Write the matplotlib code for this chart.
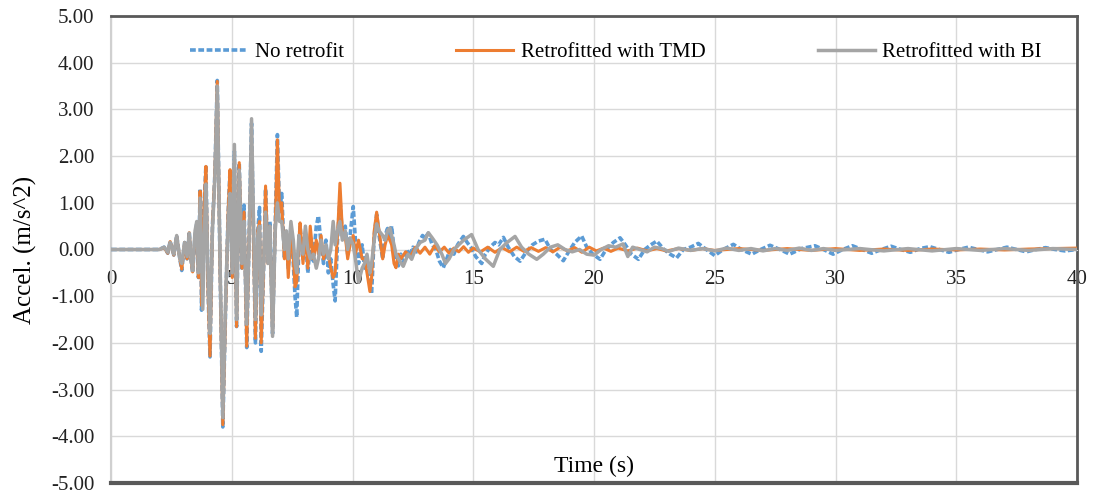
import matplotlib
matplotlib.use("Agg")
import matplotlib.pyplot as plt
import numpy as np

# ---- data (time in s, accel. in m/s^2) ----
no_retrofit_t = [0, 2.0, 2.2, 2.35, 2.45, 2.6, 2.72, 2.85, 2.93, 3.05, 3.15, 3.24, 3.32, 3.38, 3.48,
                 3.55, 3.62, 3.69, 3.75, 3.85, 3.93, 4.02, 4.10, 4.2, 4.30, 4.40, 4.52, 4.63, 4.75,
                 4.85, 4.93, 5.02, 5.11, 5.2, 5.31, 5.42, 5.51, 5.62, 5.72, 5.82, 5.98, 6.08, 6.15,
                 6.22, 6.32, 6.40, 6.5, 6.58, 6.69, 6.8, 6.89, 6.98, 7.07, 7.18, 7.26, 7.34, 7.45,
                 7.55, 7.62, 7.69, 7.78, 7.83, 7.95, 8.05, 8.15, 8.25, 8.38, 8.5, 8.59, 8.7, 8.8,
                 8.9, 9.0, 9.1, 9.2, 9.28, 9.38, 9.48, 9.58, 9.7, 9.8, 9.9, 10.03, 10.12, 10.25,
                 10.4, 10.5, 10.6, 10.72, 10.79, 10.9, 11.0, 11.1, 11.25, 11.35, 11.45, 11.55,
                 11.62, 11.72, 11.8, 11.9, 12.0, 12.1, 12.25, 12.35, 12.5, 12.6, 12.75, 12.9, 13.0,
                 13.14, 13.3, 13.45, 13.6, 13.76, 13.9, 14.05, 14.2, 14.35, 14.59, 14.75, 14.9,
                 15.1, 15.35, 15.5, 15.7, 15.9, 16.05, 16.25, 16.45, 16.7, 16.94, 17.2, 17.45,
                 17.7, 17.97, 18.2, 18.45, 18.73, 18.95, 19.2, 19.49, 19.7, 19.95, 20.25, 20.5,
                 20.8, 21.08, 21.3, 21.55, 21.84, 22.1, 22.35, 22.6, 22.9, 23.15, 23.42, 23.7,
                 24.0, 24.32, 24.65, 25.0, 25.35, 25.77, 26.1, 26.53, 26.9, 27.29, 27.7, 28.1,
                 28.6, 29.15, 29.5, 29.9, 30.3, 30.7, 31.1, 31.5, 31.9, 32.3, 32.7, 33.1, 33.5,
                 33.9, 34.3, 34.7, 35.1, 35.5, 35.9, 36.3, 36.7, 37.1, 37.5, 37.9, 38.3, 38.7,
                 39.1, 39.5, 40.0]
no_retrofit_a = [0, 0, 0.05, -0.08, 0.18, -0.12, 0.30, -0.2, -0.45, 0.15, -0.2, 0.38, -0.25, -0.5, 0.3,
                 0.55, -0.6, 1.3, -1.3, 0.9, 1.8, -0.9, -2.3, 0.5, 1.6, 3.62, -0.5, -3.8, -1.2,
                 0.8, 1.7, -0.6, 2.1, -1.65, 1.85, -0.4, 0.95, -2.1, 0.3, 2.7, -2.0, 0.4, 0.9,
                 -2.18, -0.4, 1.3, -0.3, 0.6, -1.8, 0.5, 2.46, 0.8, 1.2, -0.2, 0.3, -0.4, 0.5,
                 -0.3, -1.0, -1.45, 0.1, 0.5, -0.2, 0.3, -0.5, 0.1, -0.25, 0.5, 0.72, 0.1, -0.3,
                 0.2, -0.5, -0.2, -0.75, -1.1, 0.2, 1.1, 0.3, 0.5, -0.1, 0.3, 0.92, 0.2, -0.3,
                 0.1, -0.4, -0.2, -0.7, -0.95, 0.3, 0.75, 0.3, -0.2, 0.3, 0.45, 0.2,
                 0.5, 0.0, -0.2, -0.35, -0.1, -0.3, 0.0, -0.15, 0.05, -0.1, 0.15, 0.3, 0.25,
                 0.35, 0.1, 0.0, -0.25, -0.39, -0.2, 0.0, -0.1, 0.1, 0.28, 0.15, 0.05,
                 -0.15, -0.3, -0.1, 0.05, 0.15, 0.1, 0.26, 0.05, -0.15, -0.25, -0.05, 0.1,
                 0.18, 0.22, 0.0, -0.1, -0.24, -0.05, 0.15, 0.29, 0.05, -0.1, -0.21, 0.0,
                 0.15, 0.25, 0.1, -0.1, -0.21, 0.0, 0.1, 0.18, 0.0, -0.1, -0.18, 0.0,
                 0.05, 0.13, 0.0, -0.13, 0.0, 0.11, 0.0, -0.1, 0.0, 0.09, 0.0, -0.1,
                 0.02, 0.08, 0.0, -0.1, 0.0, 0.08, 0.0, -0.08, 0.0, 0.07, 0.0, -0.06, 0.02,
                 0.06, 0.0, -0.06, 0.0, 0.05, 0.0, -0.05, 0.0, 0.05, 0.0, -0.05, 0.0, 0.04,
                 0.0, -0.03, 0.0]

tmd_t = [0, 2.0, 2.2, 2.35, 2.45, 2.6, 2.72, 2.85, 2.93, 3.05, 3.15, 3.24, 3.32, 3.38, 3.48,
         3.55, 3.62, 3.69, 3.75, 3.85, 3.93, 4.02, 4.10, 4.2, 4.30, 4.40, 4.52, 4.63, 4.75,
         4.85, 4.93, 5.02, 5.11, 5.2, 5.31, 5.42, 5.51, 5.62, 5.72, 5.82, 5.98, 6.08, 6.15,
         6.22, 6.32, 6.40, 6.5, 6.58, 6.69, 6.8, 6.89, 6.98, 7.07, 7.18, 7.26, 7.34, 7.45,
         7.55, 7.62, 7.69, 7.78, 7.83, 7.95, 8.05, 8.15, 8.25, 8.38, 8.5, 8.59, 8.7, 8.8,
         8.9, 9.0, 9.1, 9.2, 9.28, 9.38, 9.48, 9.58, 9.7, 9.8, 9.9, 10.03, 10.12, 10.25,
         10.4, 10.5, 10.6, 10.72, 10.79, 10.9, 11.0, 11.1, 11.25, 11.35, 11.45, 11.55,
         11.62, 11.72, 11.8, 11.9, 12.0, 12.2, 12.4, 12.6, 12.8, 13.0, 13.2, 13.4, 13.6,
         13.8, 14.0, 14.2, 14.4, 14.6, 14.8, 15.0, 15.3, 15.6, 15.9, 16.2, 16.5, 16.8,
         17.1, 17.4, 17.7, 18.0, 18.3, 18.6, 18.9, 19.2, 19.5, 19.8, 20.1, 20.4, 20.7,
         21.0, 21.4, 21.8, 22.2, 22.6, 23.0, 23.5, 24.0, 24.5, 25.0, 26, 27, 28, 29, 30,
         31, 32, 33, 34, 35, 36, 37, 38, 39, 40]
tmd_a = [0, 0, 0.04, -0.08, 0.17, -0.12, 0.28, -0.2, -0.42, 0.15, -0.2, 0.36, -0.25, -0.48, 0.3,
         0.5, -0.6, 1.25, -1.2, 0.9, 1.78, -0.9, -2.28, 0.5, 1.6, 3.6, -0.5, -3.75, -1.2,
         0.8, 1.71, -0.6, 1.9, -1.65, 1.86, -0.4, 0.8, -2.07, 0.3, 2.2, -1.9, 0.4, 0.6,
         -2.0, -0.4, 1.36, -0.3, 0.5, -1.8, 0.5, 2.35, 0.8, 1.0, -0.2, 0.3, -0.6, 0.4,
         -0.2, -0.8, -0.7, 0.2, 0.57, -0.3, 0.4, -0.4, 0.5, -0.2, 0.2, -0.1, 0.3, -0.2,
         0.0, -0.1, -0.4, -0.6, -0.5, 0.3, 1.42, 0.4, 0.3, -0.2, 0.1, 0.3, -0.1, 0.2,
         -0.2, -0.2, -0.5, -0.9, -0.6, 0.4, 0.8, 0.4, -0.2, 0.1, 0.3, 0.2,
         0.1, -0.3, -0.39, -0.1, -0.2, -0.05, -0.15, 0.05, -0.08, 0.05, -0.1, 0.08, -0.05,
         0.05, -0.08, 0.03, -0.05, 0.06, -0.06, 0.03, -0.05, 0.05, -0.06, 0.04, -0.05, 0.05,
         -0.04, 0.04, -0.04, 0.04, -0.05, 0.05, -0.03, 0.04, -0.06, 0.05, -0.03, 0.03, -0.04,
         0.03, -0.03, 0.03, -0.03, 0.02, -0.03, 0.02, -0.02, 0.02, -0.02, 0.02, -0.02, 0.02, -0.02, 0.02,
         -0.02, 0.01, -0.02, 0.01, -0.01, 0.01, -0.01, 0.01, 0.02, 0.03]

bi_t = [0, 2.0, 2.2, 2.35, 2.45, 2.6, 2.72, 2.85, 2.93, 3.05, 3.15, 3.24, 3.32, 3.38, 3.48,
        3.55, 3.62, 3.69, 3.80, 3.88, 3.93, 4.02, 4.10, 4.2, 4.30, 4.40, 4.52, 4.63, 4.75,
        4.85, 4.93, 5.02, 5.11, 5.2, 5.31, 5.42, 5.51, 5.62, 5.72, 5.82, 5.98, 6.08, 6.15,
        6.22, 6.32, 6.40, 6.5, 6.58, 6.69, 6.8, 6.89, 6.98, 7.07, 7.18, 7.26, 7.34, 7.45,
        7.55, 7.62, 7.69, 7.78, 7.83, 7.95, 8.05, 8.15, 8.25, 8.38, 8.5, 8.59, 8.7, 8.8,
        8.9, 9.0, 9.1, 9.2, 9.28, 9.38, 9.48, 9.58, 9.7, 9.8, 9.9, 10.03, 10.12, 10.25,
        10.4, 10.5, 10.6, 10.72, 10.79, 10.9, 11.0, 11.1, 11.25, 11.35, 11.45, 11.55,
        11.62, 11.72, 11.8, 11.9, 12.1, 12.3, 12.45, 12.6, 12.8, 13.0, 13.14, 13.3, 13.5,
        13.7, 13.85, 14.0, 14.2, 14.4, 14.6, 14.93, 15.2, 15.5, 15.83, 16.1, 16.4, 16.73,
        17.0, 17.3, 17.63, 17.9, 18.2, 18.5, 18.8, 19.1, 19.4, 19.7, 20.0, 20.3, 20.6,
        20.9, 21.2, 21.4, 21.6, 21.9, 22.2, 22.5, 22.8, 23.1, 23.5, 24, 24.5, 25, 25.5,
        26, 26.5, 27, 27.5, 28, 28.5, 29, 29.5, 30, 31, 32, 33, 34, 35, 36, 37, 38, 39, 40]
bi_a = [0, 0, 0.05, -0.06, 0.15, -0.1, 0.3, -0.2, -0.3, 0.15, -0.15, 0.35, -0.2, -0.45, 0.4,
        0.6, -0.5, 1.1, -1.28, 0.6, 1.4, -0.6, -1.8, 0.4, 1.5, 3.5, -0.4, -3.6, -1.0,
        0.6, 1.2, -0.5, 2.25, -1.5, 1.7, -0.3, 0.6, -1.6, 0.2, 2.8, -1.5, 0.3, 0.5,
        -1.4, -0.3, 0.8, -0.3, 0.5, -1.86, 0.4, 1.0, 0.6, 0.6, 0.0, 0.4, -0.2, 0.6,
        0.2, -0.3, -0.5, 0.3, 0.1, -0.1, 0.5, 0.0, -0.2, -0.1, -0.4, -0.2, 0.2, -0.1,
        0.1, -0.2, 0.0, 0.6, 0.1, 0.4, 0.6, 0.2, 0.4, 0.0, 0.25, 0.1, -0.2, -0.7,
        -0.4, -0.3, -0.1, -0.5, -0.3, 0.2, 0.55, 0.4, 0.3, 0.2, 0.4, 0.46,
        0.3, 0.1, -0.1, -0.2, -0.36, -0.1, -0.21, 0.0, 0.15, 0.2, 0.36, 0.25, 0.1,
        -0.1, -0.3, -0.2, 0.0, 0.1, 0.2, 0.32, 0.0, -0.2, -0.36, 0.0, 0.15, 0.28,
        0.05, -0.1, -0.21, -0.1, 0.05, 0.1, 0.0, -0.05, 0.0, -0.1, -0.12, 0.0, 0.08,
        0.05, 0.12, -0.15, 0.05, 0.0, -0.05, 0.05, 0.02, -0.04, 0.03, -0.02, 0.02, -0.03, 0.03,
        -0.02, 0.02, -0.03, 0.02, -0.02, 0.03, -0.02, 0.02, -0.02, 0.02, -0.03, 0.02, -0.03, 0.02, -0.02, 0.02, -0.02, 0.02, 0.0]

x_ticks = [0, 5, 10, 15, 20, 25, 30, 35, 40]
y_ticks = [-5, -4, -3, -2, -1, 0, 1, 2, 3, 4, 5]

plt.rcParams['font.family'] = ['Liberation Serif', 'DejaVu Serif']

fig = plt.figure(figsize=(10.93, 4.93), dpi=100)
ax = fig.add_axes([111/1093, 10/493, 966/1093, 467/493])

ax.plot(no_retrofit_t, no_retrofit_a, color='#5B9BD5', lw=2.6, ls=(0, (1.6, 0.7)),
        label='No retrofit', zorder=3)
ax.plot(tmd_t, tmd_a, color='#ED7D31', lw=2.2, label='Retrofitted with TMD', zorder=4)
ax.plot(bi_t, bi_a, color='#A5A5A5', lw=2.5, label='Retrofitted with BI', zorder=5)

ax.set_xlim(0, 40)
ax.set_ylim(-5, 5)
ax.set_xticks(x_ticks)
ax.set_yticks(y_ticks)
ax.set_yticklabels([f"{v:.2f}" for v in y_ticks])
ax.grid(True, color='#d9d9d9', lw=1.0)
ax.set_axisbelow(True)

# x axis crosses at zero, frame drawn dark on top/right/bottom
ax.spines['bottom'].set_position(('data', 0))
ax.spines['bottom'].set_color('#d9d9d9')
ax.spines['left'].set_color('#d0d0d0')
ax.spines['left'].set_linewidth(1.5)
for s in ['top', 'right']:
    ax.spines[s].set_color('#595959')
    ax.spines[s].set_linewidth(2.0)
ax.axhline(-5, color='#595959', lw=3.0, clip_on=False, zorder=6)

ax.tick_params(axis='both', length=0, labelsize=15, colors='#222222')
ax.tick_params(axis='x', pad=15)
ax.tick_params(axis='y', pad=12)

ax.set_ylabel('Accel. (m/s^2)', fontsize=18, labelpad=10)
ax.text(0.5, 0.035, 'Time (s)', transform=ax.transAxes, ha='center', va='center', fontsize=17)

fig.legend(loc='center', bbox_to_anchor=(616/1093, 1 - 52/493), ncol=3, frameon=False,
           fontsize=15, handlelength=2.75, columnspacing=5.4, handletextpad=0.35)

fig.savefig('out.png', dpi=100)
